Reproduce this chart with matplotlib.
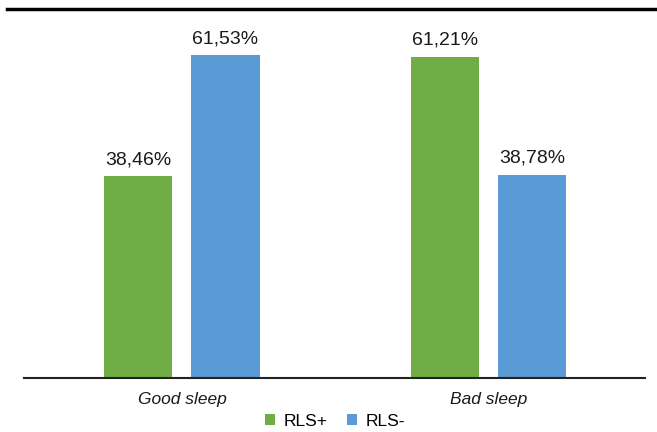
import numpy as np
import matplotlib.pyplot as plt
from matplotlib.lines import Line2D

plt.rcParams['font.family'] = ['Liberation Sans', 'DejaVu Sans']

# Sleep quality split by RLS status
categories = ["Good sleep", "Bad sleep"]
series_names = ["RLS+", "RLS-"]
rls_pos = [38.46, 61.21]
rls_neg = [61.53, 38.78]
colors = ["#70AD47", "#5B9BD5"]

fig = plt.figure(figsize=(6.57, 4.32), dpi=100)
ax = fig.add_axes([24 / 657, 54 / 432, 621 / 657, 367 / 432])

x = np.arange(len(categories))
w = 0.222
off = 0.142
for vals, shift, col, name in zip([rls_pos, rls_neg], [-off, off], colors, series_names):
    b = ax.bar(x + shift, vals, width=w, color=col, label=name)
    for rect, v in zip(b, vals):
        ax.annotate(f"{v:.2f}%".replace(".", ","),
                    (rect.get_x() + rect.get_width() / 2, v),
                    xytext=(0, 6), textcoords="offset points",
                    ha="center", va="bottom", fontsize=14, color="#1a1a1a")

ax.set_xlim(-0.515, 1.51)
ax.set_ylim(0, 70)
for s in ["top", "left", "right"]:
    ax.spines[s].set_visible(False)
ax.spines["bottom"].set_linewidth(1.5)
ax.spines["bottom"].set_color("#222222")
ax.set_yticks([])
ax.set_xticks(x)
ax.set_xticklabels(categories, fontstyle="italic", fontsize=12.5, color="#1a1a1a")
ax.tick_params(axis="x", length=0, pad=10)

fig.legend(loc="center", bbox_to_anchor=(0.51, 1 - 421 / 432), ncol=2, frameon=False,
           fontsize=12.5, handlelength=0.6, handleheight=0.6, handletextpad=0.5,
           columnspacing=1.1, borderpad=0)

# heavy rule across the top of the figure
fig.add_artist(Line2D([7 / 657, 1.0], [1 - 9 / 432, 1 - 9 / 432],
                      color="black", linewidth=2.5))

fig.savefig("out.png", dpi=100)
